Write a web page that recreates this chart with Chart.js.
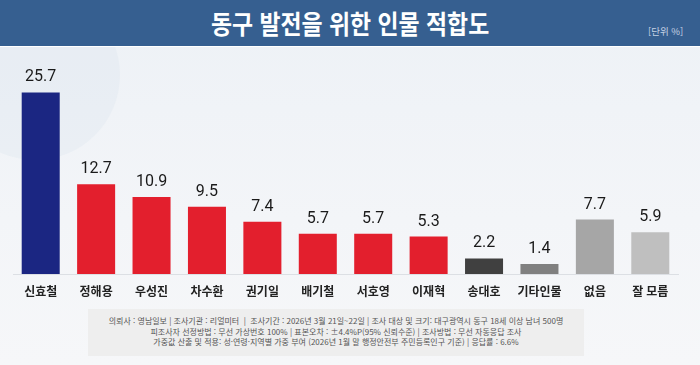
<!DOCTYPE html>
<html lang="ko">
<head>
<meta charset="utf-8">
<script src="https://cdn.jsdelivr.net/npm/chart.js@4/dist/chart.umd.min.js"></script>
<style>
  html, body { margin:0; padding:0; }
  body { width:700px; height:365px; overflow:hidden; position:relative;
         background: linear-gradient(180deg, #edf1f6 0%, #f3f5f8 60%, #f6f7f9 100%);
         font-family: "Noto Sans CJK KR", "Noto Sans", sans-serif; }
  #deco { position:absolute; left:-50px; top:-10px; width:170px; height:170px; border-radius:50%;
          background: rgba(220,228,238,0.35); }
  #header { position:absolute; left:0; top:0; width:700px; height:46px; background:#365f90;
            border-bottom:1px solid #ffffff; }
  #title { position:absolute; left:0; top:0; width:700px; height:46px; line-height:46px; text-align:center;
           color:#ffffff; font-size:26px; font-weight:700; }
  #title span { display:inline-block; transform: scaleX(0.88); transform-origin: center; }
  #unit { position:absolute; left:648px; top:24px; color:#c5d2e4; font-size:9.5px; }
  #chartwrap { position:absolute; left:0; top:0; width:700px; height:365px; }
  #footer { position:absolute; left:88px; top:309px; width:496px; height:47px; background:#eeeeee;
            color:#555; font-size:8px; text-align:center; line-height:10.5px; padding-top:7px; box-sizing:border-box; }
</style>
</head>
<body>
<div id="deco"></div>
<div id="header"></div>
<div id="title"><span>동구 발전을 위한 인물 적합도</span></div>
<div id="unit">[단위 %]</div>
<div id="chartwrap"><canvas id="c" width="700" height="365"></canvas></div>
<div id="footer">
  <div>의뢰사 : 영남일보 | 조사기관 : 리얼미터 &nbsp;| &nbsp;조사기간 : 2026년 3월 21일~22일 | 조사 대상 및 크기: 대구광역시 동구 18세 이상 남녀 500명</div>
  <div>피조사자 선정방법 : 무선 가상번호 100% | 표본오차 : ±4.4%P(95% 신뢰수준) | 조사방법 : 무선 자동응답 조사</div>
  <div>가중값 산출 및 적용: 성·연령·지역별 가중 부여 (2026년 1월 말 행정안전부 주민등록인구 기준) | 응답률 : 6.6%</div>
</div>
<script>
const categories = ["신효철","정해용","우성진","차수환","권기일","배기철","서호영","이재혁","송대호","기타인물","없음","잘 모름"];
const values = [25.7, 12.7, 10.9, 9.5, 7.4, 5.7, 5.7, 5.3, 2.2, 1.4, 7.7, 5.9];
const barColors = ["#1b2682","#e31f2d","#e31f2d","#e31f2d","#e31f2d","#e31f2d","#e31f2d","#e31f2d","#404040","#808080","#a6a6a6","#bfbfbf"];

const valueLabels = {
  id: 'valueLabels',
  afterDatasetsDraw(chart) {
    const ctx = chart.ctx;
    const meta = chart.getDatasetMeta(0);
    ctx.save();
    ctx.font = '16px Roboto, "Noto Sans", sans-serif';
    ctx.fillStyle = '#1a1a1a';
    ctx.textAlign = 'center';
    ctx.textBaseline = 'bottom';
    meta.data.forEach((bar, i) => {
      ctx.fillText(values[i].toFixed(1), bar.x, bar.y - 7);
    });
    ctx.restore();
  }
};

new Chart(document.getElementById('c'), {
  type: 'bar',
  data: {
    labels: categories,
    datasets: [{
      data: values,
      backgroundColor: barColors,
      borderWidth: 0,
      barPercentage: 0.686,
      categoryPercentage: 1.0
    }]
  },
  options: {
    responsive: false,
    animation: false,
    layout: { padding: { left: 13, right: 22, top: 62, bottom: 0 } },
    plugins: { legend: { display: false }, tooltip: { enabled: false } },
    scales: {
      x: {
        grid: { display: true, drawOnChartArea: false, drawTicks: false },
        border: { display: true, color: '#dcdfe4', width: 1 },
        ticks: { color: '#222', font: { family: '"Noto Sans CJK KR"', size: 12, weight: 'bold' }, padding: 10, maxRotation: 0, autoSkip: false },
        afterFit(scale) { scale.height = 91; }
      },
      y: {
        display: false,
        min: 0,
        max: 30
      }
    }
  },
  plugins: [valueLabels]
});
</script>
</body>
</html>
